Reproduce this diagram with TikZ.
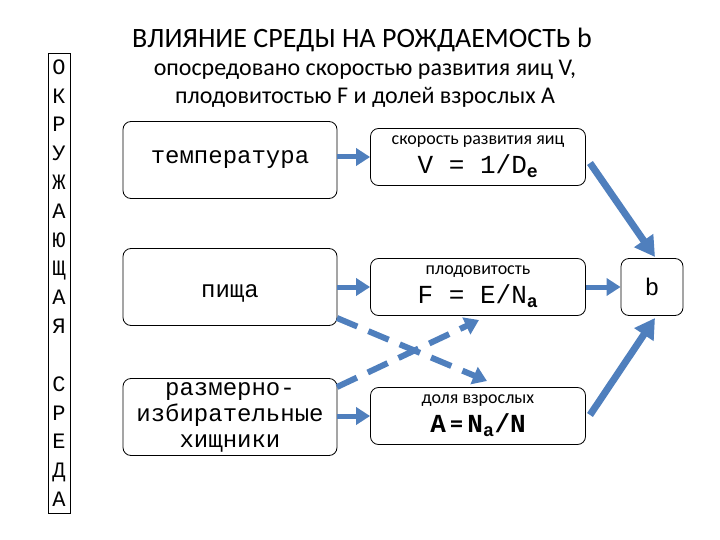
\documentclass[tikz,border=0pt]{standalone}
\usepackage{fontspec}
\setmainfont{Carlito}
\newfontfamily\mono{Liberation Mono}
\usetikzlibrary{arrows.meta}
\definecolor{ab}{HTML}{4F7FBD}
\tikzset{
 bx/.style={draw,rounded corners=8pt,thick,font=\mono\fontsize{24}{26}\selectfont,align=center,inner sep=0pt},
 arr/.style={draw=ab,line width=5pt,-{Triangle[length=14pt,width=17pt]}},
 darr/.style={draw=ab,line width=6pt,dash pattern=on 22pt off 12pt,-{Triangle[length=14pt,width=18pt]}},
}
\begin{document}
\begin{tikzpicture}[x=1pt,y=-1pt]
\useasboundingbox (0,0) rectangle (720,540);
\node[font=\fontsize{28}{32}\selectfont] (t) at (362,40) {ВЛИЯНИЕ СРЕДЫ НА РОЖДАЕМОСТЬ b};
\node[font=\fontsize{24}{28}\selectfont,align=center] (s) at (365,84) {опосредовано скоростью развития яиц V,\\плодовитостью F и долей взрослых A};
\node[draw,thick,minimum width=22pt,minimum height=460pt,anchor=north west,inner sep=0pt] (L) at (48,53) {};
\node[font=\mono\fontsize{22}{28.8}\selectfont,align=center,anchor=north] (Lt) at (59,56) {О\\К\\Р\\У\\Ж\\А\\Ю\\Щ\\А\\Я\\[29pt]С\\Р\\Е\\Д\\А};
\node[bx,minimum width=214pt,minimum height=77pt] (t1) at (230,160) {температура};
\node[bx,minimum width=214pt,minimum height=77pt] (t2) at (230,287) {\\пища};
\node[bx,minimum width=214pt,minimum height=77pt] (t3) at (230,417) {размерно-\\избирательные\\хищники};
\node[bx,minimum width=215pt,minimum height=57pt] (r1) at (478,157) {\rmfamily\fontsize{18}{18}\selectfont скорость развития яиц\\[3pt]\mono\fontsize{26}{26}\selectfont V = 1/D\textsubscript{\bfseries e}};
\node[bx,minimum width=215pt,minimum height=57pt] (r2) at (478,287) {\rmfamily\fontsize{18}{18}\selectfont плодовитость\\[3pt]\mono\fontsize{26}{26}\selectfont F = E/N\textsubscript{\bfseries a}};
\node[bx,minimum width=215pt,minimum height=57pt] (r3) at (478,416) {\rmfamily\fontsize{18}{18}\selectfont доля взрослых\\[3pt]\mono\fontsize{26}{26}\selectfont\bfseries A\,{\rmfamily =}\,N\textsubscript{a}/N};
\node[bx,minimum width=62pt,minimum height=57pt] (b) at (652,287) {b};
\draw[arr] (t1.east|-r1) -- (r1.west);
\draw[arr] (t2.east|-r2) -- (r2.west);
\draw[arr] (t3.east|-r3) -- (r3.west);
\draw[arr] (r2.east) -- (b.west);
\coordinate (a1s) at (590,163); \coordinate (a1e) at (655,257);
\coordinate (a2s) at (590,415); \coordinate (a2e) at (655,318);
\draw[arr,line width=7pt,-{Triangle[length=20pt,width=22pt]}] (a1s) -- (a1e);
\draw[arr,line width=7pt,-{Triangle[length=20pt,width=22pt]}] (a2s) -- (a2e);
\coordinate (d1s) at (337,318); \coordinate (d1e) at (487,381);
\coordinate (d2s) at (337,387); \coordinate (d2e) at (479,320);
\draw[darr] (d1s) -- (d1e);
\draw[darr] (d2s) -- (d2e);
\end{tikzpicture}
\end{document}
